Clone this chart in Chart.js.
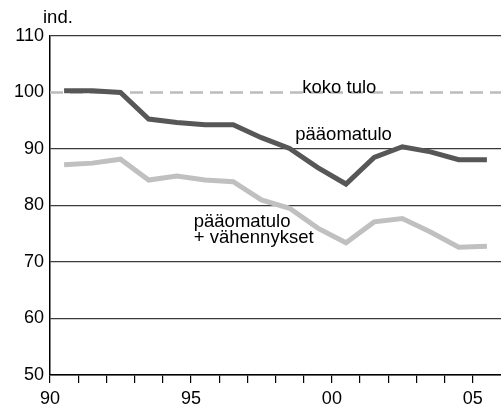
<!DOCTYPE html>
<html>
<head>
<meta charset="utf-8">
<script src="https://cdn.jsdelivr.net/npm/chart.js@4.4.1/dist/chart.umd.min.js"></script>
<style>
  html, body { margin: 0; padding: 0; background: #fff; }
  #wrap { width: 501px; height: 411px; }
</style>
</head>
<body>
<div id="wrap"><canvas id="chart"></canvas></div>
<script>
// Data (index, values at mid-year)
const years = [1990, 1991, 1992, 1993, 1994, 1995, 1996, 1997, 1998, 1999, 2000, 2001, 2002, 2003, 2004, 2005];
const paaomatulo = [100.3, 100.3, 100.0, 95.3, 94.7, 94.3, 94.3, 92.0, 90.1, 86.7, 83.8, 88.5, 90.4, 89.5, 88.1, 88.1];
const vahennykset = [87.2, 87.5, 88.2, 84.5, 85.2, 84.5, 84.2, 81.0, 79.5, 76.0, 73.4, 77.1, 77.7, 75.3, 72.6, 72.8];
const kokoTulo = [100, 100];
const kokoTuloYears = [1990, 2006];
const yTicks = [50, 60, 70, 80, 90, 100, 110];
const xLabelYears = [1990, 1995, 2000, 2005];

const FONT = '"Liberation Sans", Arial, Helvetica, sans-serif';
Chart.defaults.font.family = FONT;
Chart.defaults.color = '#000';

// Text labels inside the plot (in data units)
const notes = [
    { lines: ['koko tulo'], x: 1998.95, y: 99.9 },
    { lines: ['pääomatulo'], x: 1998.7, y: 91.6 },
    { lines: ['pääomatulo', '+ vähennykset'], x: 1995.1, y: 76.2 }
];

const notesPlugin = {
    id: 'notes',
    afterDatasetsDraw(chart) {
        const ctx = chart.ctx;
        const xs = chart.scales.x, ys = chart.scales.y;
        ctx.save();
        ctx.fillStyle = '#000';
        ctx.font = '18.5px ' + FONT;
        ctx.textBaseline = 'alphabetic';
        ctx.textAlign = 'left';
        notes.forEach(n => {
            n.lines.forEach((line, i) => {
                ctx.fillText(line, xs.getPixelForValue(n.x), ys.getPixelForValue(n.y) + i * 16);
            });
        });
        // unit label above the y axis
        ctx.fillText('ind.', chart.chartArea.left - 7, chart.chartArea.top - 13);
        ctx.restore();
    }
};

const toPoints = (xs, vals, shift) => vals.map((v, i) => ({ x: xs[i] + shift, y: v }));

new Chart(document.getElementById('chart'), {
    type: 'line',
    data: {
        datasets: [
            {
                label: 'pääomatulo',
                data: toPoints(years, paaomatulo, 0.5),
                borderColor: '#575757',
                borderWidth: 5,
                pointRadius: 0,
                tension: 0
            },
            {
                label: 'pääomatulo + vähennykset',
                data: toPoints(years, vahennykset, 0.5),
                borderColor: '#c0c0c0',
                borderWidth: 5,
                pointRadius: 0,
                tension: 0
            },
            {
                label: 'koko tulo',
                data: toPoints(kokoTuloYears, kokoTulo, 0),
                borderColor: '#bcbcbc',
                borderWidth: 2.5,
                borderDash: [13, 7],
                pointRadius: 0
            }
        ]
    },
    options: {
        responsive: true,
        maintainAspectRatio: false,
        animation: false,
        layout: { padding: { top: 36, right: 0, left: 0, bottom: 0 } },
        plugins: {
            legend: { display: false },
            tooltip: { enabled: false }
        },
        scales: {
            x: {
                type: 'linear',
                min: 1990,
                max: 2006,
                afterFit(scale) { scale.height = 36; },
                afterBuildTicks(scale) {
                    scale.ticks = years.map(y => ({ value: y }));
                },
                ticks: {
                    autoSkip: false,
                    maxRotation: 0,
                    padding: 5,
                    font: { size: 18 },
                    callback: v => xLabelYears.includes(v) ? String(v).slice(2) : ''
                },
                grid: {
                    drawOnChartArea: false,
                    drawTicks: true,
                    tickLength: 8,
                    color: '#000',
                    lineWidth: 1.2
                },
                border: { display: true, color: '#000', width: 1.5 }
            },
            y: {
                min: 50,
                max: 110,
                afterFit(scale) { scale.width = 50; },
                afterBuildTicks(scale) {
                    scale.ticks = yTicks.map(v => ({ value: v }));
                },
                ticks: {
                    padding: 6,
                    font: { size: 18 }
                },
                grid: {
                    drawTicks: false,
                    color: c => c.tick && c.tick.value === 100 ? 'rgba(0,0,0,0)' : '#3a3a3a',
                    lineWidth: 1.2
                },
                border: { display: true, color: '#000', width: 1.5 }
            }
        }
    },
    plugins: [notesPlugin]
});
</script>
</body>
</html>
